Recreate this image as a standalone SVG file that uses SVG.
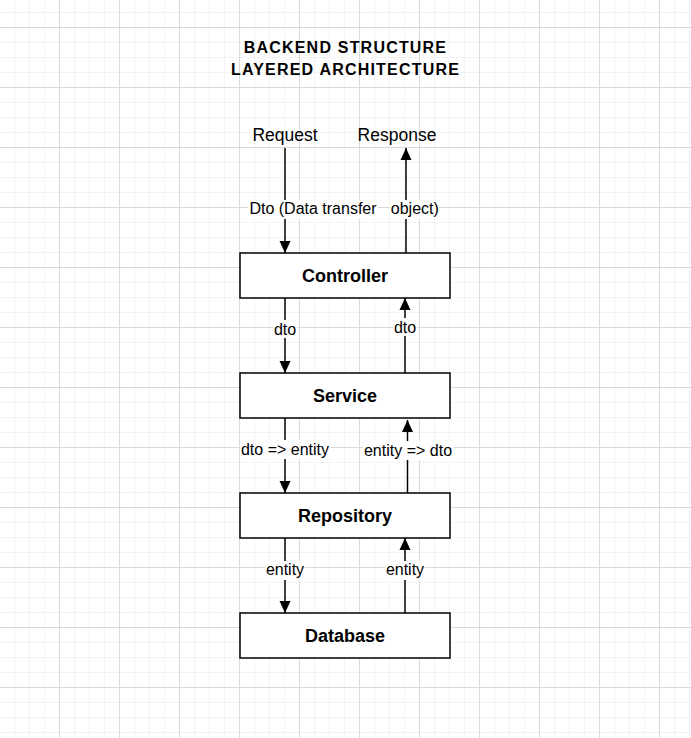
<svg xmlns="http://www.w3.org/2000/svg" width="691" height="738" viewBox="0 0 691 738">
  <defs>
    <pattern id="grid" x="0" y="-32" width="60" height="60" patternUnits="userSpaceOnUse">
      <path d="M14.5 0V60M29.5 0V60M44.5 0V60M0 14.5H60M0 29.5H60M0 44.5H60" stroke="#f3f3f3" stroke-width="1" fill="none"/>
      <path d="M59.5 0V60M0 59.5H60" stroke="#dadada" stroke-width="1" fill="none"/>
    </pattern>
    <marker id="arrow" markerUnits="userSpaceOnUse" markerWidth="12" markerHeight="14" viewBox="0 0 12 14" refX="12" refY="6" orient="auto">
      <path d="M0 0.5L12 6L0 11.5Z" fill="#000"/>
    </marker>
  </defs>
  <style>
    .node rect { fill: #fff; stroke: #000; stroke-width: 1.5; }
    .node text { font-family: "Liberation Sans", Arial, sans-serif; font-size: 18px; font-weight: bold; text-anchor: middle; fill: #000; }
    .edge { stroke: #000; stroke-width: 1.5; fill: none; marker-end: url(#arrow); }
    .lbl { font-family: "Liberation Sans", Arial, sans-serif; font-size: 16px; text-anchor: middle; fill: #000; }
    .lblbg { fill: #fff; }
    .io { font-family: "Liberation Sans", Arial, sans-serif; font-size: 17.5px; text-anchor: middle; fill: #000; }
    .title { font-family: "Liberation Sans", Arial, sans-serif; font-size: 16px; font-weight: bold; text-anchor: middle; fill: #000; letter-spacing: 1.2px; }
  </style>
  <rect width="691" height="738" fill="#fff"/>
  <rect width="691" height="738" fill="url(#grid)"/>

  <g id="title">
    <text class="title" x="345.5" y="53">BACKEND STRUCTURE</text>
    <text class="title" x="345.5" y="75">LAYERED ARCHITECTURE</text>
  </g>

  <g id="request">
    <text class="io" x="285" y="140.5">Request</text>
  </g>
  <g id="response">
    <text class="io" x="397" y="140.5">Response</text>
  </g>

  <g id="connectors">
    <path class="edge" d="M285 148V253"/>
    <path class="edge" d="M406 253V148"/>
    <path class="edge" d="M285 298V373"/>
    <path class="edge" d="M405 373V298"/>
    <path class="edge" d="M285 418V493"/>
    <path class="edge" d="M407.5 493V420"/>
    <path class="edge" d="M285 538V613"/>
    <path class="edge" d="M405 613V538"/>

    <rect class="lblbg" x="248" y="200" width="130" height="19"/>
    <text class="lbl" x="313" y="214">Dto (Data transfer</text>
    <rect class="lblbg" x="390" y="200" width="49" height="19"/>
    <text class="lbl" x="414.8" y="214">object)</text>

    <rect class="lblbg" x="273" y="320" width="24" height="18"/>
    <text class="lbl" x="285" y="334.5">dto</text>
    <rect class="lblbg" x="393" y="318" width="24" height="18"/>
    <text class="lbl" x="405" y="332.5">dto</text>

    <rect class="lblbg" x="240" y="440" width="90" height="19"/>
    <text class="lbl" x="285" y="454.5">dto =&gt; entity</text>
    <rect class="lblbg" x="363" y="441" width="90" height="19"/>
    <text class="lbl" x="408" y="455.5">entity =&gt; dto</text>

    <rect class="lblbg" x="265" y="561" width="40" height="19"/>
    <text class="lbl" x="285" y="575">entity</text>
    <rect class="lblbg" x="385" y="561" width="40" height="19"/>
    <text class="lbl" x="405" y="575">entity</text>
  </g>

  <g id="controller" class="node">
    <rect x="240" y="253" width="210" height="45"/>
    <text x="345" y="281.5">Controller</text>
  </g>
  <g id="service" class="node">
    <rect x="240" y="373" width="210" height="45"/>
    <text x="345" y="401.5">Service</text>
  </g>
  <g id="repository" class="node">
    <rect x="240" y="493" width="210" height="45"/>
    <text x="345" y="521.5">Repository</text>
  </g>
  <g id="database" class="node">
    <rect x="240" y="613" width="210" height="45"/>
    <text x="345" y="641.5">Database</text>
  </g>
</svg>
